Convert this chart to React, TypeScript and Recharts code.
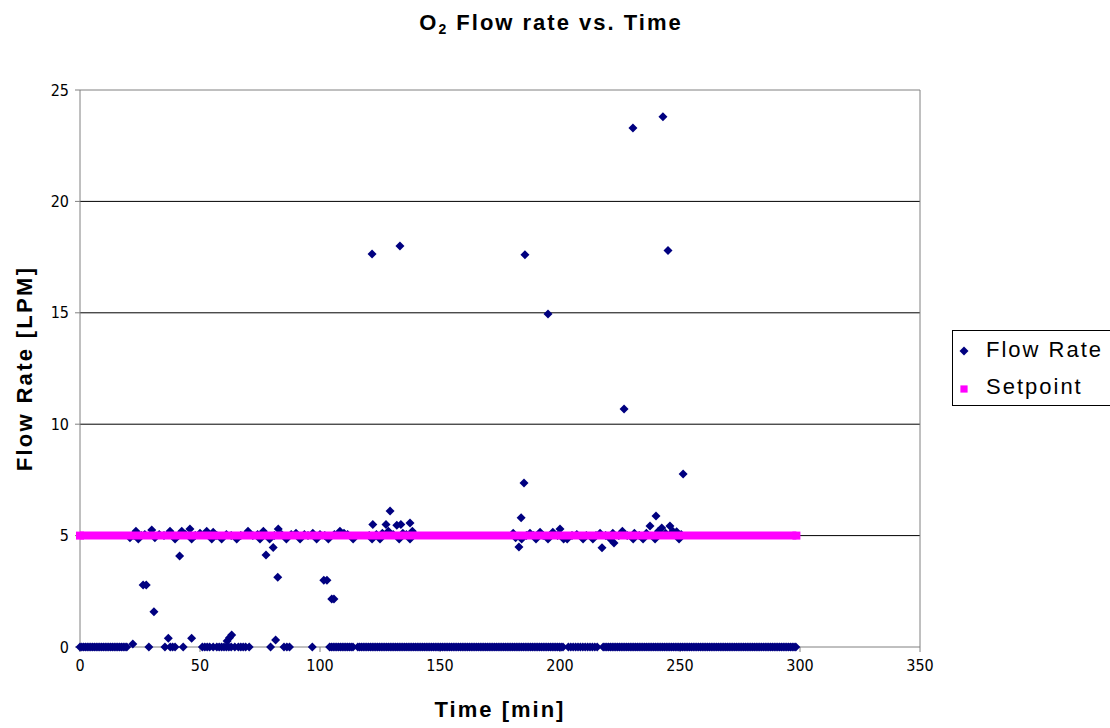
import { ReferenceLine, Scatter, ScatterChart, XAxis, YAxis } from "recharts";

const xTicks = [0, 50, 100, 150, 200, 250, 300, 350];
const yTicks = [0, 5, 10, 15, 20, 25];
const gridValues = [5, 10, 15, 20];

// times [min] where the flow read 0 LPM
const zeroTimes = [
  0, 0.75, 1.5, 2.25, 3, 3.75, 4.5, 5.25, 6, 6.75, 7.5, 8.25, 9, 9.75, 10.5, 11.25, 12, 12.75,
  13.5, 14.25, 15, 15.75, 16.5, 17.25, 18, 18.75, 19.5,
  28.7, 35.4, 37.6, 38.6, 39.6, 43,
  51, 52, 53, 54, 55.5, 57, 58, 59, 60, 61, 62, 63, 64.5, 66, 67, 68, 69, 70.5,
  79.4, 85, 86.2, 87.3, 96.8,
  104, 104.75, 105.5, 106.25, 107, 107.75, 108.5, 109.25, 110, 110.75, 111.5, 112.25, 113,
  113.75, 115.75, 116.5, 117.25, 118, 118.75, 119.5, 120.25, 121, 121.75, 122.5, 123.25, 124,
  124.75, 125.5, 126.25, 127, 127.75, 128.5, 129.25, 130, 130.75, 131.5, 132.25, 133, 133.75,
  134.5, 135.25, 136, 136.75, 137.5, 138.25, 139, 139.75, 140.5, 141.25, 142, 142.75, 143.5,
  144.25, 145, 145.75, 146.5, 147.25, 148, 148.75, 149.5, 150.25, 151, 151.75, 152.5, 153.25,
  154, 154.75, 155.5, 156.25, 157, 157.75, 158.5, 159.25, 160, 160.75, 161.5, 162.25, 163,
  163.75, 164.5, 165.25, 166, 166.75, 167.5, 168.25, 169, 169.75, 170.5, 171.25, 172, 172.75,
  173.5, 174.25, 175, 175.75, 176.5, 177.25, 178, 178.75, 179.5, 180.25, 181, 181.75, 182.5,
  183.25, 184, 184.75, 185.5, 186.25, 187, 187.75, 188.5, 189.25, 190, 190.75, 191.5, 192.25,
  193, 193.75, 194.5, 195.25, 196, 196.75, 197.5, 198.25, 199, 199.75, 200.5, 201.25,
  203.5, 204.5, 205.5, 206.5, 207.5, 208.5, 209.5, 210.5, 211.5, 212.5, 213.5, 214.5, 215.5,
  218, 218.75, 219.5, 220.25, 221, 221.75, 222.5, 223.25, 224, 224.75, 225.5, 226.25, 227,
  227.75, 228.5, 229.25, 230, 230.75, 231.5, 232.25, 233, 233.75, 234.5, 235.25, 236, 236.75,
  237.5, 238.25, 239, 239.75, 240.5, 241.25, 242, 242.75, 243.5, 244.25, 245, 245.75, 246.5,
  247.25, 248, 248.75, 249.5, 250.25, 251, 251.75, 252.5, 253.25, 254, 254.75, 255.5, 256.25,
  257, 257.75, 258.5, 259.25, 260, 260.75, 261.5, 262.25, 263, 263.75, 264.5, 265.25, 266,
  266.75, 267.5, 268.25, 269, 269.75, 270.5, 271.25, 272, 272.75, 273.5, 274.25, 275, 275.75,
  276.5, 277.25, 278, 278.75, 279.5, 280.25, 281, 281.75, 282.5, 283.25, 284, 284.75, 285.5,
  286.25, 287, 287.75, 288.5, 289.25, 290, 290.75, 291.5, 292.25, 293, 293.75, 294.5, 295.25,
  296, 296.75, 297.5, 298.25,
];

// readings around the 5 LPM setpoint [time, flow]
const nearSetpoint: [number, number][] = [
  [20.8, 4.9], [22.5, 5.0], [23.3, 5.2], [24.3, 4.85], [25.5, 5.0], [27, 5.05], [29.9, 5.25],
  [31.2, 4.9], [33, 5.05], [35, 5.0], [37.5, 5.2], [39.6, 4.85], [41, 5.0], [42.4, 5.2],
  [44, 5.05], [45.8, 5.3], [46.5, 4.85], [48, 5.0], [50, 5.1], [52.8, 5.2], [54.9, 4.85],
  [55.5, 5.15], [57, 5.0], [59, 4.85], [61, 5.05], [63, 5.0], [65.3, 4.85], [67, 5.0],
  [70, 5.2], [72, 5.0], [74, 5.05], [75, 4.85], [76.4, 5.2], [79, 4.85], [81, 5.0], [82.6, 5.3],
  [84, 5.05], [86, 4.85], [88, 5.05], [90, 5.1], [91.7, 4.85], [93.5, 5.05], [95, 5.0],
  [97, 5.1], [98.6, 4.85], [100, 5.05], [102, 5.0], [103.5, 4.85], [106, 5.05], [108.3, 5.2],
  [110, 5.1], [111.5, 5.05], [113.8, 4.85],
  [120.5, 5.0], [121.7, 4.85], [122, 5.5], [123.5, 5.05], [125, 4.85], [126, 5.1], [127.5, 5.5],
  [128.5, 5.2], [129.2, 6.1], [130.5, 5.05], [132, 5.47], [133, 4.85], [133.7, 5.5],
  [134.5, 5.1], [136, 5.05], [137.5, 5.56], [137.5, 4.85], [138.5, 5.2],
  [180.5, 5.1], [181.5, 4.9], [182.9, 4.49], [183.8, 5.8], [184, 4.85], [186, 5.0],
  [187.5, 5.1], [189, 5.0], [190, 4.85], [191.7, 5.15], [193, 5.0], [195, 4.85], [197, 5.15],
  [199, 5.0], [200, 5.3], [201.5, 4.85], [203, 4.85], [205, 5.0], [207, 5.05], [209.6, 4.85],
  [211, 5.0], [213.7, 4.85], [215, 5.0], [216.7, 5.1], [217.5, 4.46], [219, 5.0], [221, 4.85],
  [222, 5.1], [222.5, 4.67], [224.5, 5.0], [226, 5.2], [228, 5.0], [230.5, 4.85], [231, 5.1],
  [233, 5.0], [234.6, 4.85], [236, 5.1], [237.5, 5.43], [239.6, 4.85], [240, 5.88], [241, 5.2],
  [242.4, 5.34], [244, 5.1], [245.8, 5.43], [247, 5.2], [248.6, 5.17], [249.6, 4.85],
  [250.5, 5.05],
];

// low readings and spikes [time, flow]
const excursions: [number, number][] = [
  [22, 0.13], [26.3, 2.78], [27.6, 2.78], [30.8, 1.58], [36.8, 0.39], [41.5, 4.08],
  [46.5, 0.39], [61.3, 0.27], [62.3, 0.42], [63.2, 0.54], [77.5, 4.13], [80.5, 4.47],
  [81.5, 0.31], [82.4, 3.13], [101.6, 3.0], [102.9, 3.0], [104.9, 2.15], [105.8, 2.15],
  [121.7, 17.64], [133.3, 18.0], [185, 7.36], [185.4, 17.6], [195, 14.95], [226.7, 10.68],
  [230.4, 23.3], [242.9, 23.8], [245, 17.8], [251.3, 7.76],
];

const setpointTimes = [0, 298.5];
const setpointValue = 5;

const flowData = [
  ...zeroTimes.map((t) => ({ t, v: 0 })),
  ...nearSetpoint.map(([t, v]) => ({ t, v })),
  ...excursions.map(([t, v]) => ({ t, v })),
];
const setpointData = setpointTimes.map((t) => ({ t, v: setpointValue }));

const NAVY = "#000080";
const MAGENTA = "#FF00FF";
const AXIS_GRAY = "#808080";

const Diamond = (props: any) => {
  const { cx, cy } = props;
  const r = 4.5;
  return (
    <polygon
      points={`${cx},${cy - r} ${cx + r},${cy} ${cx},${cy + r} ${cx - r},${cy}`}
      fill={NAVY}
    />
  );
};

const Square = (props: any) => {
  const { cx, cy } = props;
  return <rect x={cx - 4} y={cy - 4} width={8} height={8} fill={MAGENTA} />;
};

const tickStyle = {
  fontSize: 16,
  fill: "#000",
  fontFamily: "'Liberation Sans Narrow', 'DejaVu Sans Condensed', Arial, sans-serif",
};

const labelFont = "'Liberation Sans', Arial, sans-serif";

export default function App() {
  return (
    <div style={{ position: "absolute", left: 0, top: 0, width: 1110, height: 728, background: "#fff", fontFamily: labelFont }}>
      <div
        style={{
          position: "absolute",
          top: 11,
          left: 0,
          width: 1102,
          textAlign: "center",
          fontSize: 22,
          lineHeight: "24px",
          fontWeight: "bold",
          letterSpacing: 2,
        }}
      >
        O<sub style={{ fontSize: 14, verticalAlign: -4 }}>2</sub> Flow rate vs. Time
      </div>

      <ScatterChart width={1110} height={728} margin={{ top: 90, right: 190, bottom: 0, left: 0 }}>
        {gridValues.map((g) => (
          <ReferenceLine key={g} y={g} stroke="#000" strokeWidth={1} />
        ))}
        <ReferenceLine y={25} stroke={AXIS_GRAY} strokeWidth={1} />
        <ReferenceLine x={350} stroke={AXIS_GRAY} strokeWidth={1} />
        <XAxis
          type="number"
          dataKey="t"
          domain={[0, 350]}
          ticks={xTicks}
          height={81}
          tick={tickStyle}
          tickSize={5}
          tickMargin={8}
          axisLine={{ stroke: AXIS_GRAY }}
          tickLine={{ stroke: AXIS_GRAY }}
          label={{
            value: "Time [min]",
            position: "insideBottom",
            offset: 11,
            style: { fontSize: 22, fontWeight: "bold", fill: "#000", letterSpacing: 2, fontFamily: labelFont },
          }}
        />
        <YAxis
          type="number"
          dataKey="v"
          domain={[0, 25]}
          ticks={yTicks}
          width={80}
          tick={tickStyle}
          tickSize={5}
          tickMargin={6}
          axisLine={{ stroke: AXIS_GRAY }}
          tickLine={{ stroke: AXIS_GRAY }}
          label={{
            value: "Flow Rate [LPM]",
            angle: -90,
            position: "insideLeft",
            offset: 24,
            style: { textAnchor: "middle", fontSize: 22, fontWeight: "bold", fill: "#000", letterSpacing: 2.3, fontFamily: labelFont },
          }}
        />
        <Scatter name="Flow Rate" data={flowData} shape={Diamond} isAnimationActive={false} />
        <Scatter
          name="Setpoint"
          data={setpointData}
          shape={Square}
          line={{ stroke: MAGENTA, strokeWidth: 8 }}
          isAnimationActive={false}
        />
      </ScatterChart>

      <div
        style={{
          position: "absolute",
          left: 952,
          top: 330,
          width: 160,
          height: 76,
          border: "1px solid #000",
          boxSizing: "border-box",
          fontSize: 22,
          letterSpacing: 2,
        }}
      >
        <div style={{ position: "absolute", left: 7, top: 16, width: 8, height: 8, background: NAVY, transform: "rotate(45deg) scale(0.8)" }} />
        <div style={{ position: "absolute", left: 33, top: 6, lineHeight: "26px" }}>Flow Rate</div>
        <div style={{ position: "absolute", left: 7, top: 54, width: 8, height: 8, background: MAGENTA, transform: "scale(0.9)" }} />
        <div style={{ position: "absolute", left: 33, top: 43, lineHeight: "26px" }}>Setpoint</div>
      </div>
    </div>
  );
}
